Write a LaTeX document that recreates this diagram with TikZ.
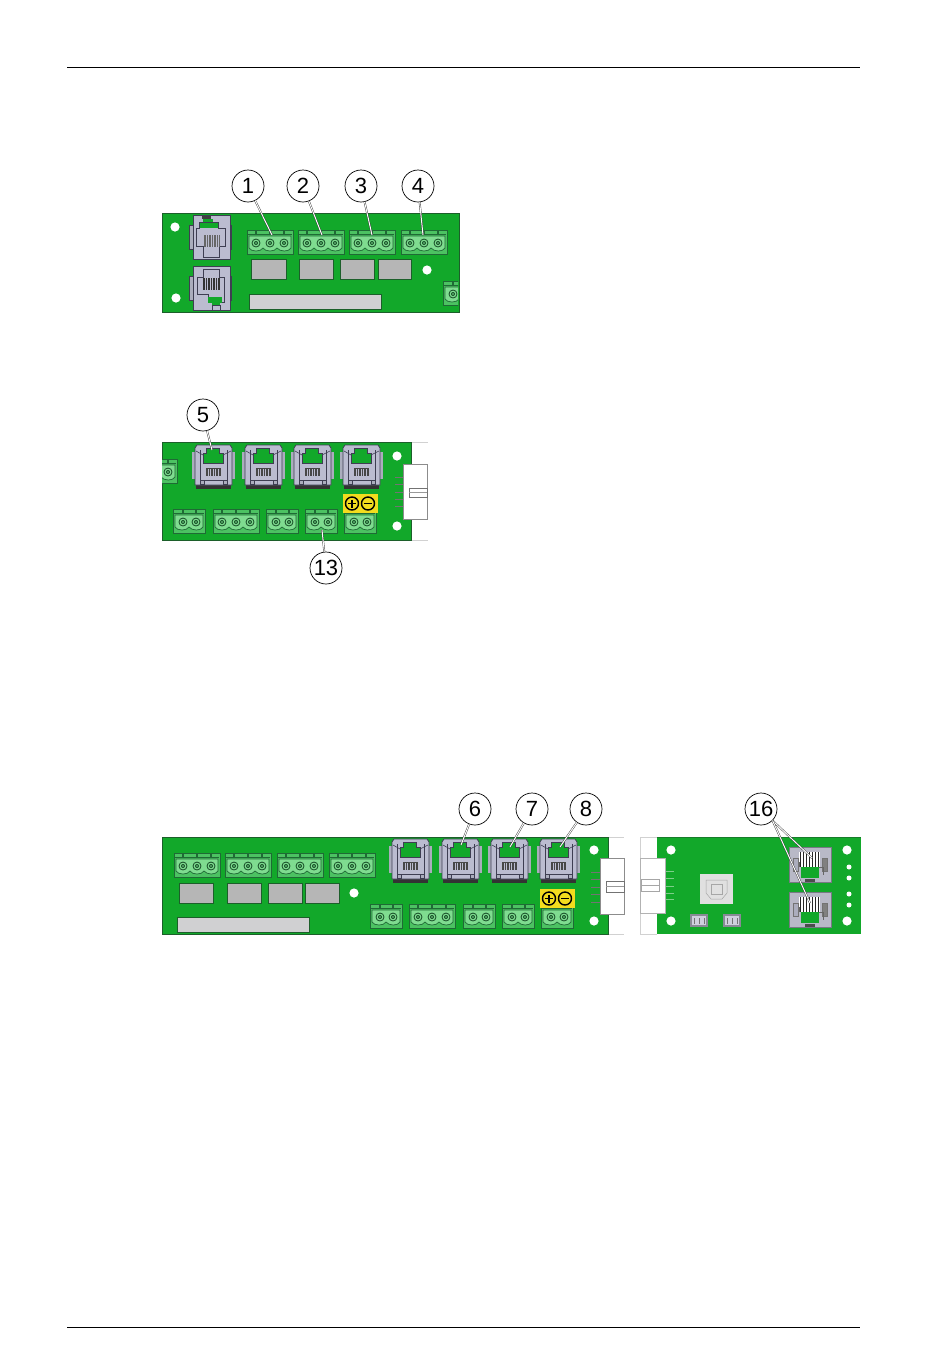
\documentclass[tikz,border=0pt]{standalone}
\usepackage{fontspec}
\setmainfont{Liberation Sans}
\definecolor{pcb}{HTML}{12A82A}
\definecolor{pcbedge}{HTML}{1C5F2A}
\definecolor{plugmid}{HTML}{4CC262}
\definecolor{pluglight}{HTML}{7FDC90}
\definecolor{plugedge}{HTML}{1F6A35}
\definecolor{rjbody}{HTML}{BBBCD0}
\definecolor{rjwing}{HTML}{ABADBD}
\definecolor{rjedge}{HTML}{3E3E52}
\definecolor{graybox}{HTML}{B6B6B6}
\definecolor{longbox}{HTML}{D0D0D2}
\definecolor{yellowpad}{HTML}{F2DC1E}
\tikzset{
  x=1pt,y=-1pt,
  board/.style={fill=pcb,draw=pcbedge,line width=.7pt},
  callout/.style={circle,draw=black,fill=white,line width=.7pt,minimum size=32pt,inner sep=0pt,font=\fontsize{22}{24}\selectfont},
  leader/.style={draw=black!80,line width=.4pt,double=white,double distance=1pt},
  chipbox/.style={fill=graybox,draw=pcbedge,line width=.8pt},
  longchip/.style={fill=longbox,draw=pcbedge,line width=.9pt},
  thinedge/.style={draw=black!18,line width=.5pt},
  hookup/.style={draw=black!55,line width=.7pt},
  plugbody/.style={fill=pluglight,draw=plugedge,line width=.7pt},
}
\newcommand{\screw}[2]{%
  \fill[pluglight] (#1,#2) circle (4.6pt);
  \draw[plugedge!70!black,line width=.8pt] (#1,#2) circle (4pt);
  \fill[plugedge!75!black] (#1,#2) circle (2pt);
  \fill[pluglight] (#1,#2) circle (.8pt);}
\newcommand{\plugthree}[2]{\begin{scope}[shift={(#1,#2)}]
  \fill[plugmid] (0,0) rectangle (46,24); \draw[plugedge,line width=.7pt] (0,0) rectangle (46,24);
  \draw[plugedge,line width=.6pt] (1,4) -- (45,4);
  \foreach \u in {9,23,37} \fill[plugedge] (\u-1,0.5) rectangle (\u+1,5);
  \draw[plugbody] (2,6) -- (44,6) -- (44,18) .. controls (42,22) and (33,22) .. (30,18) .. controls (28,22) and (18,22) .. (16,18) .. controls (14,22) and (4,22) .. (2,18) -- cycle;
  \screw{9}{13}\screw{23}{13}\screw{37}{13}
\end{scope}}
\newcommand{\plugtwo}[2]{\begin{scope}[shift={(#1,#2)}]
  \fill[plugmid] (0,0) rectangle (32,24); \draw[plugedge,line width=.7pt] (0,0) rectangle (32,24);
  \draw[plugedge,line width=.6pt] (1,4) -- (31,4);
  \foreach \u in {10,23} \fill[plugedge] (\u-1,0.5) rectangle (\u+1,5);
  \draw[plugbody] (2,6) -- (30,6) -- (30,18) .. controls (28,22) and (19,22) .. (16,18) .. controls (14,22) and (4,22) .. (2,18) -- cycle;
  \screw{10}{13}\screw{23}{13}
\end{scope}}
\newcommand{\rjfront}[2]{\begin{scope}[shift={(#1,#2)}]
  \fill[rjwing] (0,7) rectangle (43,34);
  \fill[black!80] (4,38) rectangle (39,44);
  \draw[fill=rjbody,draw=rjedge,line width=.8pt] (5,0) -- (38,0) -- (40,3) -- (40,40) -- (3,40) -- (3,3) -- cycle;
  \draw[draw=rjedge,line width=.6pt] (8,5) -- (8,35) -- (35,35) -- (35,5);
  \draw[fill=pcb,draw=rjedge,line width=.8pt] (14,3) -- (27,3) -- (27,8) -- (31,8) -- (31,18) -- (11,18) -- (11,8) -- (14,8) -- cycle;
  \draw[rjedge,line width=.6pt] (4,6) -- (11,10) (39,6) -- (31,10);
  \fill[black!72] (14,23) rectangle (29,31);
  \foreach \u in {15.5,18,20.5,23,25.5} \fill[rjbody] (\u,24) rectangle (\u+.8,31);
  \draw[rjedge,fill=rjwing,line width=.5pt] (8,35) rectangle (12,39);
  \draw[rjedge,fill=rjwing,line width=.5pt] (31,35) rectangle (35,39);
\end{scope}}
\newcommand{\rjtop}[2]{\begin{scope}[shift={(#1,#2)}]
  \draw[fill=rjwing,draw=rjedge,line width=.5pt] (-1,10) rectangle (41,34);
  \draw[fill=rjbody,draw=rjedge,line width=.8pt] (3,0) rectangle (40,44);
  \fill[pcb] (13,4) rectangle (23,7);
  \fill[pcb] (9,7) rectangle (28,13);
  \fill[black!75] (12,1) rectangle (21,4);
  \draw[rjedge,line width=.6pt] (9,7) -- (9,13) -- (6,13) -- (6,31) -- (13,31) -- (13,42) -- (29,42) -- (29,31) -- (35,31) -- (35,13) -- (28,13) -- (28,7) -- cycle;
  \fill[black!60] (14,20) rectangle (30,32);
  \foreach \u in {15.5,18,20.5,23,25.5,28} \fill[rjbody] (\u,20) rectangle (\u+.8,32);
\end{scope}}
\newcommand{\rjbottom}[2]{\begin{scope}[shift={(#1,#2)}]
  \draw[fill=rjwing,draw=rjedge,line width=.5pt] (-1,10) rectangle (41,34);
  \draw[fill=rjbody,draw=rjedge,line width=.8pt] (3,0) rectangle (40,44);
  \draw[rjedge,line width=.6pt] (13,3) -- (13,11) -- (7,11) -- (7,28) -- (18,28) -- (18,36) -- (34,36) -- (34,11) -- (29,11) -- (29,3) -- cycle;
  \fill[black!80] (13,12) rectangle (30,24);
  \foreach \u in {14.5,17,19.5,22,24.5,27} \fill[rjbody] (\u,12) rectangle (\u+.8,24);
  \fill[pcb] (18,31) rectangle (32,37);
  \fill[pcb] (22,37) rectangle (30,39);
  \draw[rjedge,line width=.5pt] (22,39) rectangle (30,44);
\end{scope}}
\newcommand{\rjdown}[2]{\begin{scope}[shift={(#1,#2)}]
  \draw[fill=rjwing!85!white,draw=rjwing!70!black,line width=.5pt] (0,0) rectangle (42,35);
  \fill[white] (10,5) rectangle (31,20);
  \foreach \u in {10.5,13.5,16.5,19.5,22.5,25.5,28.5} \fill[black!85] (\u,5) rectangle (\u+1.9,20);
  \draw[black!55,fill=rjwing,line width=.5pt] (4,11) rectangle (9,24);
  \draw[black!55,fill=black!50,line width=.5pt] (33,11) rectangle (38,24);
  \fill[pcb] (12,20) rectangle (30,31);
  \draw[black!60,line width=.5pt] (10,20) -- (10,15) (30,20) -- (34,20) -- (34,28);
  \fill[black!70] (16,32) rectangle (26,35);
\end{scope}}
\newcommand{\polarity}[2]{\begin{scope}[shift={(#1,#2)}]
  \fill[yellowpad] (0,0) rectangle (35,19);
  \draw[black,fill=yellowpad,line width=1.4pt] (9,9.5) circle (6.5pt);
  \draw[black,line width=1.6pt] (5,9.5) -- (13,9.5) (9,5.5) -- (9,13.5);
  \draw[black,fill=yellowpad,line width=1.4pt] (25,9.5) circle (6.5pt);
  \draw[black,line width=1.6pt] (21,9.5) -- (29,9.5);
\end{scope}}
\newcommand{\hole}[2]{\fill[white] (#1,#2) circle (4.6pt);}
\begin{document}
\begin{tikzpicture}
\useasboundingbox (0,0) rectangle (950,1369);
\fill[white] (0,0) rectangle (950,1369);
\draw[black,line width=.8pt] (67,67) -- (860,67);
\draw[black,line width=.8pt] (67,1327) -- (860,1327);

% ---- board 1
\draw[board] (162,213) rectangle (459,312);
\begin{scope}
  \clip (162,213) rectangle (458,312);
  \plugtwo{443}{281}
\end{scope}
\rjtop{190}{215}
\rjbottom{190}{266}
\plugthree{247}{230}\plugthree{298}{230}\plugthree{349}{230}\plugthree{401}{230}
\draw[chipbox] (251,259) rectangle (286,279);
\draw[chipbox] (299,259) rectangle (333,279);
\draw[chipbox] (340,259) rectangle (374,279);
\draw[chipbox] (378,259) rectangle (411,279);
\draw[longchip] (249,294) rectangle (381,309);
\hole{175}{227}\hole{176}{298}\hole{427}{270}

% ---- board 2
\draw[thinedge] (411,442) -- (428,442) (411,540) -- (428,540);
\draw[board] (162,442) rectangle (411,540);
\begin{scope}
  \clip (162,442) rectangle (411,540);
  \plugtwo{145}{459}
\end{scope}
\rjfront{192}{445}\rjfront{242}{445}\rjfront{291}{445}\rjfront{340}{445}
\plugtwo{173}{509}\plugthree{213}{509}\plugtwo{266}{509}\plugtwo{305}{509}\plugtwo{344}{509}
\polarity{343}{494}
\hole{397}{456}\hole{397}{526}
\foreach \v in {477,484,492,499,506} \draw[hookup] (395,\v) -- (403,\v);
\draw[fill=white,draw=black!45,line width=.5pt] (403,464) rectangle (427,519);
\draw[fill=white,draw=black!55,line width=.5pt] (409,488) rectangle (427,497);
\fill[black!40] (409,491.5) rectangle (427,493);

% ---- board 3
\draw[thinedge] (608,837) -- (624,837) (608,934) -- (624,934);
\draw[board] (162,837) rectangle (608,934);
\plugthree{174}{853}\plugthree{225}{853}\plugthree{277}{853}\plugthree{329}{853}
\draw[chipbox] (179,883) rectangle (213,903);
\draw[chipbox] (227,883) rectangle (261,903);
\draw[chipbox] (268,883) rectangle (302,903);
\draw[chipbox] (305,883) rectangle (339,903);
\draw[longchip] (177,917) rectangle (309,932);
\hole{354}{893}
\rjfront{389}{839}\rjfront{439}{839}\rjfront{488}{839}\rjfront{537}{839}
\plugtwo{370}{904}\plugthree{409}{904}\plugtwo{463}{904}\plugtwo{502}{904}\plugtwo{541}{904}
\polarity{540}{889}
\hole{594}{850}\hole{594}{921}
\foreach \v in {872,879,887,894,902} \draw[hookup] (591,\v) -- (600,\v);
\draw[fill=white,draw=black!45,line width=.5pt] (600,858) rectangle (624,914);
\draw[fill=white,draw=black!55,line width=.5pt] (606,881) rectangle (624,892);
\fill[black!40] (606,885.5) rectangle (624,887);

% ---- board 4
\draw[thinedge] (640,837) -- (657,837) (640,934) -- (657,934) (640,837) -- (640,934);
\fill[pcb] (657,837) rectangle (861,934);
\draw[pcbedge!60!pcb,line width=.5pt] (657,837) -- (861,837);
\foreach \v in {871,878,886,893,899} \draw[draw=white!45!pcb,line width=.8pt] (665,\v) -- (674,\v);
\draw[fill=white,draw=black!30,line width=.5pt] (640,858) rectangle (665,913);
\draw[fill=white,draw=black!35,line width=.5pt] (641,879) rectangle (659,891);
\draw[black!35,line width=.5pt] (641,885) -- (659,885);
\fill[black!12] (700,874) rectangle (733,904);
\draw[black!35,line width=.5pt] (706,880) -- (727,880) -- (727,893) -- (722,899) -- (711,899) -- (706,893) -- cycle;
\draw[black!35,line width=.5pt] (711,884) rectangle (722,894);
\foreach \u in {690,723} {
  \fill[rjwing!80!black] (\u,914) rectangle (\u+18,927);
  \fill[rjbody!70!white] (\u+2,916) rectangle (\u+16,925);
  \foreach \w in {4,9,14} \fill[black!55] (\u+\w,918) rectangle (\u+\w+1.4,924);
}
\rjdown{789}{847}\rjdown{789}{892}
\hole{671}{850}\hole{671}{921}
\hole{847}{850}\hole{847}{921}
\foreach \v in {867,878,894,905} \fill[white] (849,\v) circle (2.5pt);

% ---- call-outs
\coordinate (t1) at (272,235);
\coordinate (t2) at (322,235);
\coordinate (t3) at (372,235);
\coordinate (t4) at (423,235);
\coordinate (t5) at (212,450);
\coordinate (t13) at (322,530);
\coordinate (t6) at (461,845);
\coordinate (t7) at (510,847);
\coordinate (t8) at (560,847);
\coordinate (t16a) at (812,858);
\coordinate (t16b) at (810,903);
\node[callout] (c1) at (248,186) {1};
\node[callout] (c2) at (303,186) {2};
\node[callout] (c3) at (361,186) {3};
\node[callout] (c4) at (418,186) {4};
\node[callout] (c5) at (203,415) {5};
\node[callout] (c13) at (326,568) {13};
\node[callout] (c6) at (475,809) {6};
\node[callout] (c7) at (532,809) {7};
\node[callout] (c8) at (586,809) {8};
\node[callout] (c16) at (761,809) {16};
\foreach \k in {1,2,3,4,5,13,6,7,8} \draw[leader] (c\k) -- (t\k);
\draw[leader] (c16.-45) -- (t16a);
\draw[leader] (c16.-45) -- (t16b);
\end{tikzpicture}
\end{document}
